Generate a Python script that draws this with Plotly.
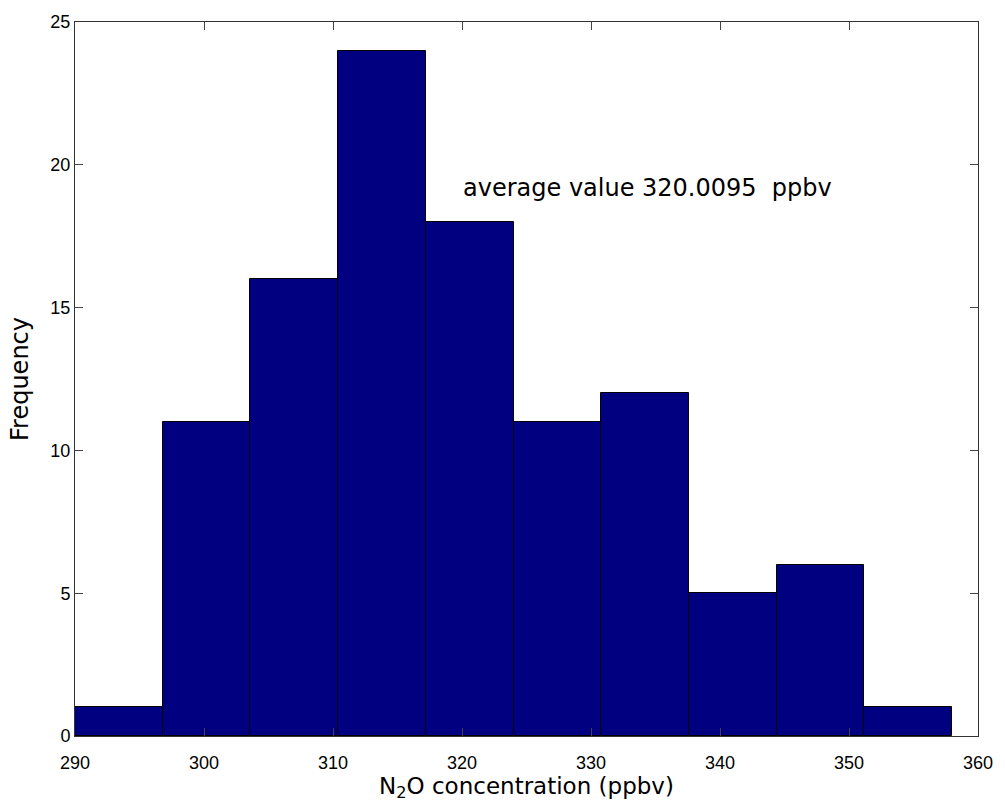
import plotly.graph_objects as go

bin_edges = [290.0, 296.8, 303.6, 310.4, 317.2, 324.0, 330.8, 337.6, 344.4, 351.2, 358.0]
counts = [1, 11, 16, 24, 18, 11, 12, 5, 6, 1]
x_ticks = [290, 300, 310, 320, 330, 340, 350, 360]
y_ticks = [0, 5, 10, 15, 20, 25]
avg_label = "average value 320.0095  ppbv"

centers = [(a + b) / 2 for a, b in zip(bin_edges[:-1], bin_edges[1:])]
widths = [b - a for a, b in zip(bin_edges[:-1], bin_edges[1:])]

fig = go.Figure(go.Bar(
    x=centers, y=counts, width=widths,
    marker=dict(color="#000080", line=dict(color="black", width=1)),
))

font = "Liberation Sans, Arial, sans-serif"
title_font = "DejaVu Sans, sans-serif"
fig.update_layout(
    width=1005, height=807,
    margin=dict(l=75, r=18, t=18, b=71),
    paper_bgcolor="white", plot_bgcolor="white",
    showlegend=False, bargap=0,
    font=dict(family=font, color="black", size=17),
    xaxis=dict(range=[290, 360], tickvals=x_ticks, ticks="inside", ticklen=8,
               showline=True, mirror="ticks", linecolor="#333", linewidth=1,
               showgrid=False, zeroline=False, tickfont=dict(size=18),
               ticklabelstandoff=10,
               title=dict(text="N<sub>2</sub>O concentration (ppbv)",
                          font=dict(size=23, family=title_font), standoff=4)),
    yaxis=dict(range=[0, 25], tickvals=y_ticks, ticks="inside", ticklen=8,
               showline=True, mirror="ticks", linecolor="#333", linewidth=1,
               showgrid=False, zeroline=False, tickfont=dict(size=18),
               title=dict(text="Frequency", font=dict(size=24, family=title_font), standoff=14)),
    annotations=[dict(x=319.95, y=19.2, xref="x", yref="y", text=avg_label,
                      showarrow=False, xanchor="left", yanchor="middle",
                      font=dict(size=24, family=title_font))],
)
fig.write_html("out.html")
